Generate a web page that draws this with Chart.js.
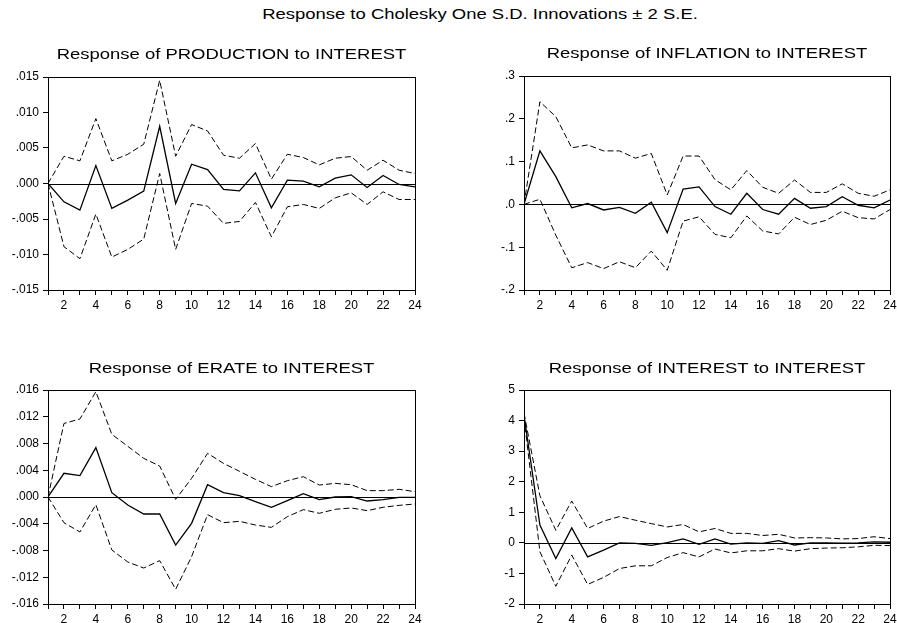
<!DOCTYPE html>
<html>
<head>
<meta charset="utf-8">
<script src="https://cdn.jsdelivr.net/npm/chart.js@4/dist/chart.umd.min.js"></script>
<style>
  html, body { margin: 0; padding: 0; background: #fff; width: 897px; height: 623px; overflow: hidden; }
  #mainTitle {
    position: absolute; top: 5px; left: 480px;
    transform: translateX(-50%) scaleX(1.19);
    white-space: nowrap; color: #000;
    font: 15.5px "Liberation Sans", Arial, sans-serif;
  }
  canvas { position: absolute; }
</style>
</head>
<body>
<div id="mainTitle">Response to Cholesky One S.D. Innovations ± 2 S.E.</div>
<canvas id="c1" width="425" height="278" style="left:0px;top:40px"></canvas>
<canvas id="c2" width="424" height="278" style="left:476px;top:40px"></canvas>
<canvas id="c3" width="425" height="282" style="left:0px;top:350px"></canvas>
<canvas id="c4" width="424" height="282" style="left:476px;top:350px"></canvas>
<script>
// Forecast horizon
const periods = [1,2,3,4,5,6,7,8,9,10,11,12,13,14,15,16,17,18,19,20,21,22,23,24];

// Response of PRODUCTION to INTEREST
const prodResp  = [0,-0.00258,-0.00375,0.00253,-0.00351,-0.00234,-0.00108,0.00806,-0.00281,0.00272,0.00197,-0.00084,-0.00103,0.0015,-0.00342,0.00047,0.00033,-0.00047,0.00075,0.00122,-0.00056,0.00112,-0.00014,-0.00047];
const prodUpper = [0,0.00384,0.00319,0.00914,0.00319,0.00412,0.00553,0.01453,0.00384,0.0083,0.0074,0.00398,0.00356,0.00562,0.00061,0.00412,0.00366,0.00262,0.00356,0.0038,0.00187,0.00328,0.00187,0.00141];
const prodLower = [0,-0.0089,-0.01059,-0.00431,-0.01036,-0.00928,-0.00783,0.00141,-0.00928,-0.00281,-0.00319,-0.00562,-0.00534,-0.00267,-0.0075,-0.00328,-0.00295,-0.00351,-0.00202,-0.00131,-0.00295,-0.00117,-0.00225,-0.00225];

// Response of INFLATION to INTEREST
const inflResp  = [0,0.125,0.065,-0.008,0.002,-0.013,-0.007,-0.021,0.005,-0.066,0.036,0.041,-0.005,-0.023,0.026,-0.012,-0.023,0.014,-0.009,-0.005,0.018,-0.002,-0.008,0.01];
const inflUpper = [0,0.24,0.205,0.132,0.139,0.125,0.125,0.108,0.119,0.022,0.113,0.113,0.058,0.034,0.079,0.04,0.026,0.057,0.028,0.028,0.048,0.026,0.019,0.034];
const inflLower = [0,0.012,-0.072,-0.148,-0.136,-0.15,-0.134,-0.148,-0.109,-0.154,-0.039,-0.029,-0.07,-0.078,-0.027,-0.062,-0.069,-0.03,-0.047,-0.037,-0.016,-0.031,-0.034,-0.012];

// Response of ERATE to INTEREST
const erateResp  = [0,0.00354,0.00319,0.00738,0.00065,-0.0012,-0.00254,-0.00254,-0.00718,-0.00394,0.00184,0.00065,0.0002,-0.0007,-0.00155,-0.00055,0.0005,-0.0004,0,0.00005,-0.0006,-0.0004,-0.00005,-0.00005];
const erateUpper = [0,0.011,0.01166,0.01575,0.00937,0.00758,0.00578,0.00463,-0.00035,0.00279,0.00653,0.00503,0.00384,0.00264,0.00155,0.00244,0.00304,0.00179,0.00204,0.00184,0.00095,0.00095,0.00115,0.0008];
const erateLower = [0,-0.00384,-0.00523,-0.00115,-0.00792,-0.00972,-0.01062,-0.00952,-0.0138,-0.00892,-0.00264,-0.00384,-0.00364,-0.00419,-0.00454,-0.00294,-0.00189,-0.00244,-0.00184,-0.00164,-0.00204,-0.00154,-0.00125,-0.00105];

// Response of INTEREST to INTEREST
const intResp  = [4.18,0.58,-0.51,0.49,-0.46,-0.24,0,-0.02,-0.08,0.01,0.13,-0.05,0.13,-0.04,0,-0.02,0.07,-0.07,0,0,-0.01,0,0.03,0.02];
const intUpper = [4.25,1.54,0.41,1.37,0.47,0.71,0.86,0.74,0.63,0.52,0.6,0.36,0.47,0.31,0.31,0.24,0.28,0.16,0.17,0.16,0.13,0.14,0.2,0.14];
const intLower = [4.1,-0.29,-1.42,-0.4,-1.36,-1.13,-0.84,-0.75,-0.75,-0.48,-0.32,-0.46,-0.2,-0.33,-0.26,-0.26,-0.19,-0.27,-0.19,-0.17,-0.16,-0.13,-0.08,-0.09];

// Axis ranges and tick steps for each panel
const prodTicks  = { min: -0.015, max: 0.015, step: 0.005, decimals: 3 };
const inflTicks  = { min: -0.2,   max: 0.3,   step: 0.1,   decimals: 1 };
const erateTicks = { min: -0.016, max: 0.016, step: 0.004, decimals: 3 };
const intTicks   = { min: -2,     max: 5,     step: 1,     decimals: 0 };

Chart.defaults.font.family = '"Liberation Sans", Arial, sans-serif';
Chart.defaults.color = '#000';
Chart.defaults.animation = false;

// Values like 0.015 are written as ".015", the EViews way
function fmt(v, d) {
  let s = Math.abs(v) < 1e-12 ? (0).toFixed(d) : v.toFixed(d);
  return d > 0 ? s.replace(/^(-?)0\./, '$1.') : s;
}

// Zero reference line, box frame and panel heading (heading is drawn wide, like the EViews font)
const panelDecor = {
  id: 'panelDecor',
  beforeDatasetsDraw(chart) {
    const { ctx, chartArea: a, scales: { y } } = chart;
    const y0 = Math.round(y.getPixelForValue(0)) + 0.5;
    ctx.save();
    ctx.strokeStyle = '#000';
    ctx.lineWidth = 1;
    ctx.beginPath();
    ctx.moveTo(a.left, y0);
    ctx.lineTo(a.right, y0);
    ctx.stroke();
    ctx.restore();
  },
  afterDraw(chart, args, opts) {
    const { ctx, chartArea: a } = chart;
    ctx.save();
    ctx.strokeStyle = '#000';
    ctx.lineWidth = 1;
    ctx.strokeRect(Math.round(a.left) + 0.5, Math.round(a.top) + 0.5,
                   Math.round(a.right - a.left), Math.round(a.bottom - a.top));
    ctx.fillStyle = '#000';
    ctx.font = '15.5px "Liberation Sans", Arial, sans-serif';
    ctx.textAlign = 'center';
    ctx.textBaseline = 'middle';
    ctx.translate((a.left + a.right) / 2, a.top - opts.titleGap);
    ctx.scale(opts.stretch, 1);
    ctx.fillText(opts.title, 0, 0);
    ctx.restore();
  }
};

function toPoints(arr) {
  return periods.map((p, i) => ({ x: p, y: arr[i] }));
}

function makePanel(id, title, resp, upper, lower, t, topPad, titleGap) {
  const band = { borderColor: '#000', borderWidth: 1, borderDash: [6, 3], pointRadius: 0, tension: 0, fill: false };
  new Chart(document.getElementById(id), {
    type: 'line',
    data: {
      datasets: [
        Object.assign({ data: toPoints(upper) }, band),
        Object.assign({ data: toPoints(lower) }, band),
        { data: toPoints(resp), borderColor: '#000', borderWidth: 1.3, pointRadius: 0, tension: 0, fill: false }
      ]
    },
    options: {
      responsive: false,
      devicePixelRatio: 1,
      layout: { padding: { top: topPad, right: 10, bottom: 0, left: 0 } },
      plugins: {
        legend: { display: false },
        tooltip: { enabled: false },
        panelDecor: { title: title, titleGap: titleGap, stretch: 1.19 }
      },
      scales: {
        x: {
          type: 'linear', min: 1, max: 24,
          afterFit(s) { s.height = 28; },
          ticks: {
            stepSize: 1, autoSkip: false, maxRotation: 0, padding: 3,
            font: { size: 12 },
            callback: v => (v % 2 === 0 ? String(v) : '')
          },
          grid: { drawOnChartArea: false, drawTicks: true, tickLength: 5, color: '#000' },
          border: { color: '#000' }
        },
        y: {
          min: t.min, max: t.max,
          afterFit(s) { s.width = 48; },
          ticks: {
            stepSize: t.step, padding: 4,
            font: { size: 12 },
            callback: v => fmt(v, t.decimals)
          },
          grid: { drawOnChartArea: false, drawTicks: true, tickLength: 5, color: '#000' },
          border: { color: '#000' }
        }
      }
    },
    plugins: [panelDecor]
  });
}

makePanel('c1', 'Response of PRODUCTION to INTEREST', prodResp, prodUpper, prodLower, prodTicks, 37, 22);
makePanel('c2', 'Response of INFLATION to INTEREST', inflResp, inflUpper, inflLower, inflTicks, 36, 22);
makePanel('c3', 'Response of ERATE to INTEREST', erateResp, erateUpper, erateLower, erateTicks, 40, 21);
makePanel('c4', 'Response of INTEREST to INTEREST', intResp, intUpper, intLower, intTicks, 40, 21);
</script>
</body>
</html>
